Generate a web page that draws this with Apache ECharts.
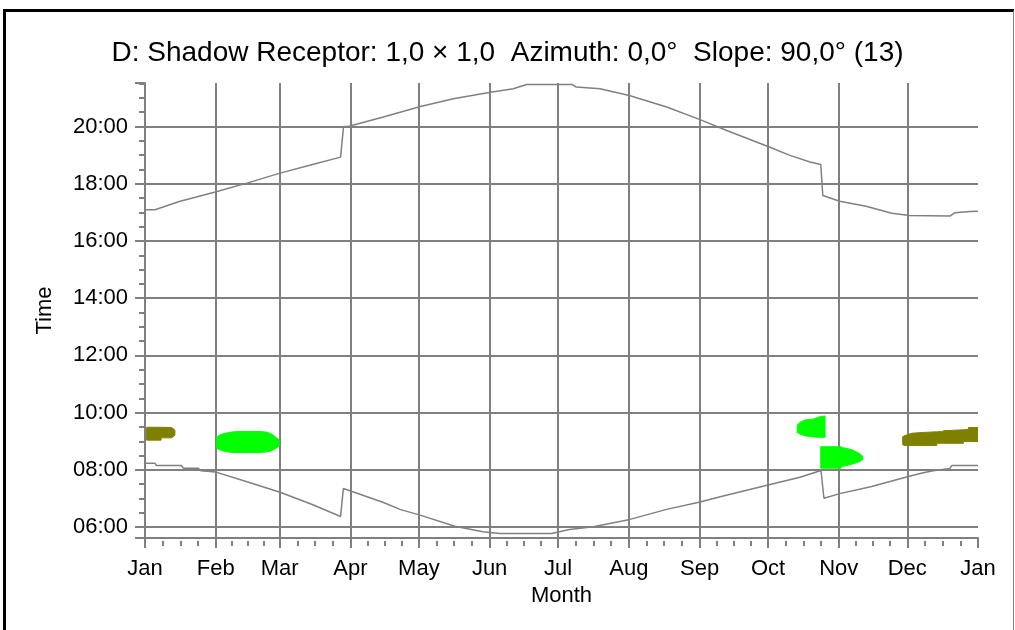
<!DOCTYPE html>
<html>
<head>
<meta charset="utf-8">
<script src="https://cdn.jsdelivr.net/npm/echarts@6/dist/echarts.min.js"></script>
<style>
html,body{margin:0;padding:0;background:#fff;overflow:hidden;}
#frame{position:absolute;left:3px;top:9px;width:1011px;height:640px;border-top:3px solid #000;border-left:3px solid #000;border-right:1px solid #808080;box-sizing:border-box;}
#chart{position:absolute;left:0;top:0;width:1015px;height:630px;}
</style>
</head>
<body>
<div id="frame"></div>
<div id="chart"></div>
<script>
// ---- text ----
const chartTitle = 'D: Shadow Receptor: 1,0 \u00d7 1,0  Azimuth: 0,0\u00b0  Slope: 90,0\u00b0 (13)';
const xAxisName = 'Month';
const yAxisName = 'Time';

// ---- x axis (day of year) ----
const monthLabels = ['Jan','Feb','Mar','Apr','May','Jun','Jul','Aug','Sep','Oct','Nov','Dec','Jan'];
const monthStartDays = [0,31,59,90,120,151,181,212,243,273,304,334,365];
const minorTickDays = [7.75,15.5,23.25, 38,45,52, 66.75,74.5,82.25, 97.5,105,112.5,
  127.75,135.5,143.25, 158.5,166,173.5, 188.75,196.5,204.25, 219.75,227.5,235.25,
  250.5,258,265.5, 280.75,288.5,296.25, 311.5,319,326.5, 341.75,349.5,357.25];

// ---- y axis (hours) ----
const timeMin = 5.62;
const timeMax = 21.52;

// ---- sunrise / sunset (day, hour) ----
const sunriseDays  = [0,4.4,5.0,16.0,16.8,23.4,24.5,30.8,45,59.2,73,85.7,86.9,89.5,104.5,111.7,120.5,135.8,143,148,155.5,178.2,179,186,196.4,212.5,228.6,243.2,252,273,287,296.2,297.5,304.8,318,334.9,341,345.4,352.7,353.5,365];
const sunriseHours = [8.23,8.23,8.15,8.15,8.06,8.06,7.97,7.93,7.58,7.22,6.80,6.37,7.35,7.28,6.86,6.62,6.42,6.03,5.92,5.84,5.78,5.78,5.84,5.92,6.01,6.27,6.62,6.88,7.06,7.47,7.74,7.98,7.01,7.18,7.41,7.78,7.90,7.97,8.05,8.15,8.15];
const sunsetDays   = [0,4.4,15,30.8,45,59.2,73,85.7,87.0,89.4,104.4,120.7,135.1,151.4,161.4,167.2,187,189,199.4,212.2,228.6,243.2,254.9,273,282.6,291.4,296.1,297.0,304.4,316,327.2,334.9,352.7,354.9,361.5,365];
const sunsetHours  = [17.09,17.09,17.38,17.71,18.03,18.37,18.66,18.93,20.00,20.01,20.33,20.70,20.97,21.20,21.32,21.47,21.47,21.38,21.32,21.08,20.68,20.24,19.86,19.30,18.99,18.76,18.67,17.59,17.39,17.21,16.97,16.89,16.87,16.99,17.03,17.04];

// ---- shadow periods (day, lower hour, upper hour) ----
const olive = '#808000';
const green = '#00ff00';
const janDays = [0.7,7.0,7.1,11.7,13.1];
const janLo   = [9.04,9.04,9.12,9.12,9.21];
const janHi   = [9.49,9.49,9.49,9.48,9.39];
const febDays = [31.4,32.1,33.6,35.8,38.7,41.6,50.4,53.3,55.5,57.0,58.7];
const febLo   = [8.76,8.72,8.68,8.63,8.61,8.61,8.61,8.63,8.67,8.74,8.82];
const febHi   = [9.11,9.19,9.25,9.29,9.33,9.34,9.34,9.32,9.25,9.16,9.05];
const octDays = [285.8,287.0,289.2,292.9,295.8,298.0];
const octLo   = [9.31,9.25,9.19,9.15,9.14,9.14];
const octHi   = [9.57,9.66,9.745,9.78,9.86,9.885];
const novDays = [296.1,305.0,305.3,307.5,309.7,312.6,314.5];
const novLo   = [8.06,8.06,8.12,8.15,8.20,8.27,8.36];
const novHi   = [8.81,8.81,8.78,8.75,8.70,8.60,8.48];
const decDays = [332.0,333.0,335.9,341.0,346.9,346.9,349.8,349.8,358.6,358.6,360.8,360.8,365];
const decLo   = [8.88,8.85,8.85,8.85,8.85,8.93,8.93,8.93,8.93,8.99,8.99,8.99,8.99];
const decHi   = [9.16,9.20,9.28,9.31,9.33,9.33,9.34,9.37,9.40,9.40,9.42,9.48,9.48];

const patches = [
  {name:'Jan', color: olive, days: janDays, lo: janLo, hi: janHi},
  {name:'Feb', color: green, days: febDays, lo: febLo, hi: febHi},
  {name:'Oct', color: green, days: octDays, lo: octLo, hi: octHi},
  {name:'Nov', color: green, days: novDays, lo: novLo, hi: novHi},
  {name:'Dec', color: olive, days: decDays, lo: decLo, hi: decHi}
];

const FONT = "'Liberation Sans', Arial, sans-serif";
const GRID = '#808080';

function pad(n){ return (n < 10 ? '0' : '') + n; }
function zip(a, b){ return a.map((v, i) => [v, b[i]]); }

function patchSeries(p){
  const rows = p.days.map((d, i) => [d, p.lo[i], p.hi[i]]);
  return {
    type: 'custom', name: p.name, silent: true, z: 4, clip: true,
    data: rows, encode: {x: 0, y: [1, 2]},
    renderItem: function(params, api){
      if (params.dataIndex !== 0) return null;
      const pts = [];
      for (let i = 0; i < p.days.length; i++) pts.push(api.coord([p.days[i], p.hi[i]]));
      for (let i = p.days.length - 1; i >= 0; i--) pts.push(api.coord([p.days[i], p.lo[i]]));
      return {type: 'polygon', shape: {points: pts}, style: {fill: p.color, stroke: p.color, lineWidth: 1}};
    }
  };
}

const chart = echarts.init(document.getElementById('chart'), null, {renderer: 'canvas'});
chart.setOption({
  animation: false,
  backgroundColor: 'transparent',
  title: {
    text: chartTitle, left: 'center', top: 34,
    textStyle: {fontFamily: FONT, fontSize: 28, fontWeight: 'normal', color: '#000'}
  },
  grid: {left: 145, right: 37, top: 83, bottom: 92, containLabel: false},
  xAxis: [{
    type: 'value', min: 0, max: 365,
    name: xAxisName, nameLocation: 'middle', nameGap: 47,
    nameTextStyle: {fontFamily: FONT, fontSize: 22, color: '#000'},
    axisLine: {show: true, lineStyle: {color: GRID, width: 2}},
    axisTick: {show: true, customValues: monthStartDays, length: 10, lineStyle: {color: GRID, width: 2}},
    axisLabel: {show: true, customValues: monthStartDays, margin: 20,
      fontFamily: FONT, fontSize: 22, color: '#000',
      formatter: v => monthLabels[monthStartDays.indexOf(Math.round(v))]},
    splitLine: {show: true, showMaxLine: false, lineStyle: {color: GRID, width: 2}}
  }, {
    type: 'value', min: 0, max: 365, position: 'bottom', offset: 3,
    axisLine: {show: false},
    axisTick: {show: true, customValues: minorTickDays, length: 5, lineStyle: {color: GRID, width: 2}},
    axisLabel: {show: false},
    splitLine: {show: false}
  }],
  yAxis: {
    type: 'value', min: timeMin, max: timeMax, minInterval: 2, maxInterval: 2,
    name: yAxisName, nameLocation: 'middle', nameGap: 89,
    nameTextStyle: {fontFamily: FONT, fontSize: 22, color: '#000'},
    axisLine: {show: true, lineStyle: {color: GRID, width: 2}},
    axisTick: {show: true, length: 10, lineStyle: {color: GRID, width: 2}},
    minorTick: {show: true, splitNumber: 4, length: 6, lineStyle: {color: GRID, width: 2}},
    axisLabel: {showMinLabel: false, showMaxLabel: false, margin: 17,
      fontFamily: FONT, fontSize: 22, color: '#000',
      formatter: v => pad(Math.round(v)) + ':00'},
    splitLine: {show: true, showMinLine: false, showMaxLine: false, lineStyle: {color: GRID, width: 2}}
  },
  series: [
    {type: 'line', name: 'Sunrise', data: zip(sunriseDays, sunriseHours), showSymbol: false, symbol: 'none',
     lineStyle: {color: GRID, width: 1.5}, z: 3, silent: true},
    {type: 'line', name: 'Sunset', data: zip(sunsetDays, sunsetHours), showSymbol: false, symbol: 'none',
     lineStyle: {color: GRID, width: 1.5}, z: 3, silent: true}
  ].concat(patches.map(patchSeries))
});
</script>
</body>
</html>
